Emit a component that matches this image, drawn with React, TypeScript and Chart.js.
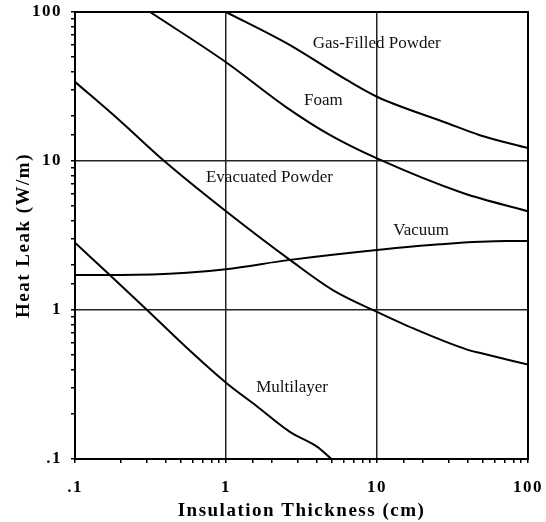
import React, { useEffect, useRef } from "react";
import { Chart, registerables } from "chart.js";

Chart.register(...registerables);

// ---- Data ----
const gasFilledX = [1, 2.5, 6.3, 10, 29, 48, 100];
const gasFilledY = [100, 62, 35, 27, 18, 14.9, 12.2];

const foamX = [0.314, 1, 2.5, 4.9, 10, 37, 100];
const foamY = [100, 46, 23, 14.9, 10.4, 6.1, 4.6];

const evacuatedX = [0.1, 0.2, 0.39, 1, 2.65, 5.1, 10, 16, 40, 50, 100];
const evacuatedY = [34, 18.5, 10, 4.6, 2.17, 1.36, 0.97, 0.78, 0.54, 0.51, 0.43];

const vacuumX = [0.1, 0.2, 0.55, 1, 2.65, 10, 26, 72, 100];
const vacuumY = [1.72, 1.72, 1.78, 1.88, 2.17, 2.53, 2.76, 2.9, 2.9];

const multilayerX = [0.1, 0.17, 0.3, 0.58, 1, 1.6, 2.65, 4, 5];
const multilayerY = [2.83, 1.72, 1.0, 0.53, 0.325, 0.226, 0.152, 0.121, 0.1];

const decadeValues = [0.1, 1, 10, 100];
const decadeLabels = [".1", "1", "10", "100"];

const curveNames = ["Gas-Filled Powder", "Foam", "Evacuated Powder", "Vacuum", "Multilayer"];
const curveLabelX = [9.95, 4.42, 1.94, 19.6, 2.74];
const curveLabelY = [61, 25.5, 7.75, 3.39, 0.302];

const xTitle = "Insulation Thickness (cm)";
const yTitle = "Heat Leak (W/m)";

const zip = (xs: number[], ys: number[]) => xs.map((x, i) => ({ x, y: ys[i] }));

const isDecade = (v: number) => {
  const l = Math.log10(v);
  return Math.abs(l - Math.round(l)) < 1e-6;
};
const decadeLabel = (v: number) => {
  for (let i = 0; i < decadeValues.length; i++) {
    if (Math.abs(Math.log10(v) - Math.log10(decadeValues[i])) < 1e-6) return decadeLabels[i];
  }
  return "";
};

const serif = "'Liberation Serif', 'Times New Roman', serif";

const framePlugin = {
  id: "frameAndLabels",
  beforeDraw(chart: any) {
    chart.ctx.letterSpacing = "1.5px";
  },
  afterDatasetsDraw(chart: any) {
    const { ctx, chartArea, scales } = chart;
    ctx.save();
    ctx.letterSpacing = "0px";
    ctx.strokeStyle = "#000";
    ctx.lineWidth = 2;
    ctx.strokeRect(chartArea.left, chartArea.top, chartArea.right - chartArea.left, chartArea.bottom - chartArea.top);
    ctx.fillStyle = "#111";
    ctx.font = `17px ${serif}`;
    ctx.textAlign = "center";
    ctx.textBaseline = "middle";
    curveNames.forEach((name, i) => {
      const px = scales.x.getPixelForValue(curveLabelX[i]);
      const py = scales.y.getPixelForValue(curveLabelY[i]);
      ctx.fillText(name, px, py);
    });
    ctx.restore();
  },
};

export default function App() {
  const canvasRef = useRef<HTMLCanvasElement | null>(null);

  useEffect(() => {
    if (!canvasRef.current) return;
    const lineStyle = {
      borderColor: "#000",
      borderWidth: 2,
      pointRadius: 0,
      fill: false,
      cubicInterpolationMode: "monotone" as const,
    };
    const chart = new Chart(canvasRef.current, {
      type: "line",
      data: {
        datasets: [
          { label: curveNames[0], data: zip(gasFilledX, gasFilledY), ...lineStyle },
          { label: curveNames[1], data: zip(foamX, foamY), ...lineStyle },
          { label: curveNames[2], data: zip(evacuatedX, evacuatedY), ...lineStyle },
          { label: curveNames[3], data: zip(vacuumX, vacuumY), ...lineStyle },
          { label: curveNames[4], data: zip(multilayerX, multilayerY), ...lineStyle },
        ],
      },
      options: {
        animation: false,
        responsive: false,
        devicePixelRatio: 1,
        layout: { padding: { left: 0, top: 12, right: 18, bottom: 0 } },
        plugins: { legend: { display: false }, tooltip: { enabled: false } },
        scales: {
          x: {
            type: "logarithmic",
            min: 0.1,
            max: 100,
            afterFit: (s: any) => {
              s.height = 63;
              s.paddingLeft = 0;
              s.paddingRight = 0;
              s.paddingTop = 0;
              s.paddingBottom = 0;
            },
            grid: {
              color: (c: any) => (c.tick && isDecade(c.tick.value) ? "#222" : "rgba(0,0,0,0)"),
              lineWidth: 1.5,
              tickColor: "#000",
              tickLength: 4,
              tickWidth: 1.5,
              drawTicks: true,
            },
            border: { color: "#000", width: 2 },
            ticks: {
              autoSkip: false,
              maxRotation: 0,
              padding: 14,
              color: "#000",
              font: { family: serif, size: 17, weight: "bold" },
              callback: (v: any) => decadeLabel(Number(v)),
            },
            title: {
              display: true,
              text: xTitle,
              color: "#000",
              font: { family: serif, size: 19, weight: "bold" },
              padding: { top: 0, bottom: 0 },
            },
          },
          y: {
            type: "logarithmic",
            min: 0.1,
            max: 100,
            afterFit: (s: any) => {
              s.width = 75;
              s.paddingLeft = 0;
              s.paddingRight = 0;
              s.paddingTop = 0;
              s.paddingBottom = 0;
            },
            grid: {
              color: (c: any) => (c.tick && isDecade(c.tick.value) ? "#222" : "rgba(0,0,0,0)"),
              lineWidth: 1.5,
              tickColor: "#000",
              tickLength: 4,
              tickWidth: 1.5,
              drawTicks: true,
            },
            border: { color: "#000", width: 2 },
            ticks: {
              autoSkip: false,
              padding: 9,
              color: "#000",
              font: { family: serif, size: 17, weight: "bold" },
              callback: (v: any) => decadeLabel(Number(v)),
            },
            title: {
              display: true,
              text: yTitle,
              color: "#000",
              font: { family: serif, size: 19, weight: "bold" },
              padding: { top: 13, bottom: 0 },
            },
          },
        },
      },
      plugins: [framePlugin],
    });
    return () => chart.destroy();
  }, []);

  return (
    <div style={{ position: "absolute", left: 0, top: 0, width: 546, height: 522, background: "#fff" }}>
      <canvas ref={canvasRef} width={546} height={522} style={{ display: "block", width: 546, height: 522 }} />
    </div>
  );
}
